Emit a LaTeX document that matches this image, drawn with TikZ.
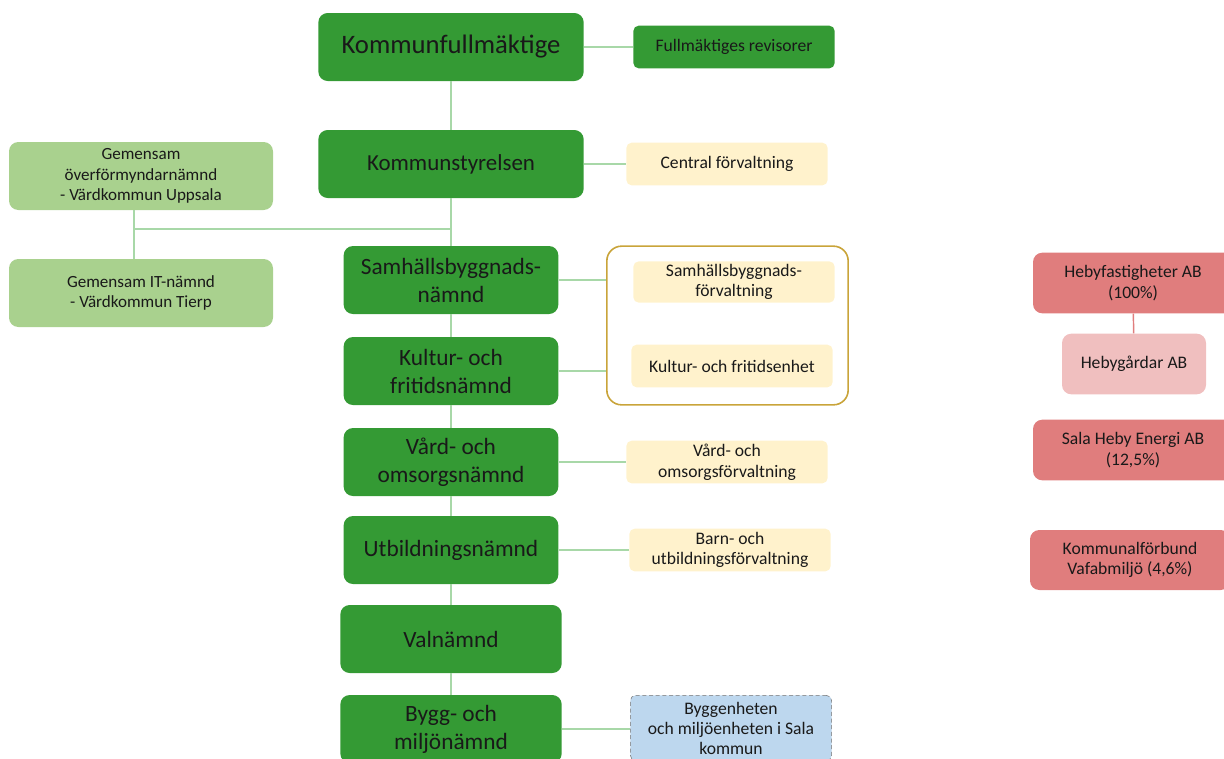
\documentclass[tikz,border=0pt]{standalone}
\usepackage{fontspec}
\setmainfont{Carlito}
\usetikzlibrary{positioning}

\definecolor{boardgreen}{HTML}{349A34}
\definecolor{jointgreen}{HTML}{A9D18E}
\definecolor{officeyellow}{HTML}{FFF2CC}
\definecolor{firmred}{HTML}{E07D7D}
\definecolor{firmpink}{HTML}{F0BFBF}
\definecolor{sharedblue}{HTML}{BDD7EE}
\definecolor{linkgreen}{HTML}{A8D8A8}
\definecolor{groupgold}{HTML}{C9A43A}

\begin{document}
\begin{tikzpicture}[x=0.75pt, y=-0.75pt,
	box/.style={rounded corners=7pt, align=center, inner sep=2pt, text=black!90},
	council/.style={box, fill=boardgreen, minimum width=199pt, minimum height=51pt},
	board/.style={box, fill=boardgreen, minimum width=161pt, minimum height=51pt, font=\fontsize{17.5}{21}\selectfont},
	small/.style={box, rounded corners=4pt, minimum width=151pt, minimum height=32pt, font=\fontsize{13.2}{15.5}\selectfont},
	office/.style={small, fill=officeyellow},
	joint/.style={box, fill=jointgreen, minimum width=198pt, minimum height=51pt, font=\fontsize{12.8}{15.4}\selectfont},
	firm/.style={box, fill=firmred, minimum width=150pt, minimum height=45.5pt, font=\fontsize{13.2}{15.5}\selectfont},
	link/.style={draw=linkgreen, line width=1.1pt}]
	\clip (0,0) rectangle (1224,758);

	\node [council, font=\fontsize{20}{24}\selectfont] (kf) at (451,47) {Kommunfullmäktige};
	\node [small, fill=boardgreen] (rev) at (734,47) {Fullmäktiges revisorer};
	\node [council, font=\fontsize{17.2}{20}\selectfont] (ks) at (451,164) {Kommunstyrelsen};
	\node [office] (cf) at (727,164) {Central förvaltning};

	\node [joint] (ofn) at (141,176) {Gemensam\\överförmyndarnämnd\\- Värdkommun Uppsala};
	\node [joint] (itn) at (141,293) {Gemensam IT-nämnd\\- Värdkommun Tierp};
	\coordinate (fork) at (134,229);

	\node [board] (sbn) at (451,280) {Samhällsbyggnads-\\nämnd};
	\node [board] (kfn) at (451,371) {Kultur- och\\fritidsnämnd};
	\node [board] (von) at (451,462) {Vård- och\\omsorgsnämnd};
	\node [board] (ubn) at (451,550) {Utbildningsnämnd};
	\node [board, minimum width=166pt] (valn) at (451,639) {Valnämnd};
	\node [board, minimum width=166pt] (bmn) at (451,729) {Bygg- och\\miljönämnd};

	\node [draw=groupgold, line width=1.2pt, rounded corners=11pt, minimum width=181pt, minimum height=119pt] (grp) at (727.5,325.5) {};
	\node [office, minimum height=30pt] (sbf) at (734,282) {Samhällsbyggnads-\\förvaltning};
	\node [office] (kfe) at (732,366) {Kultur- och fritidsenhet};
	\node [office] (vof) at (727,462) {Vård- och\\omsorgsförvaltning};
	\node [office] (buf) at (730,550) {Barn- och\\utbildningsförvaltning};
	\node [small, fill=sharedblue, draw=black!55, densely dashed, minimum height=49pt, font=\fontsize{13.2}{15}\selectfont] (bym) at (731,728) {Byggenheten\\och miljöenheten i Sala\\kommun};

	\node [firm] (hfa) at (1133,283) {Hebyfastigheter AB\\(100\%)};
	\node [firm, fill=firmpink, minimum width=108pt] (hga) at (1134,364) {Hebygårdar AB};
	\node [firm] (she) at (1133,450) {Sala Heby Energi AB\\(12,5\%)};
	\node [firm, minimum height=45pt] (vaf) at (1130,560) {Kommunalförbund\\Vafabmiljö (4,6\%)};

	\draw [link] (kf) -- (rev);
	\draw [link] (kf) -- (ks);
	\draw [link] (ks) -- (cf);
	\draw [link] (ks) -- (sbn);
	\draw [link] (fork) -- (fork -| ks.south);
	\draw [link] (ofn.south -| fork) -- (itn.north -| fork);
	\draw [link] (sbn) -- (kfn);
	\draw [link] (kfn) -- (von);
	\draw [link] (von) -- (ubn);
	\draw [link] (ubn) -- (valn);
	\draw [link] (valn) -- (bmn);
	\draw [link] (sbn.east) -- (sbn.east -| grp.west);
	\draw [link] (kfn.east) -- (kfn.east -| grp.west);
	\draw [link] (von) -- (vof);
	\draw [link] (ubn) -- (buf);
	\draw [link] (bmn.east) -- (bmn.east -| bym.west);
	\draw [draw=firmred, line width=1.1pt] (hfa) -- (hga);
\end{tikzpicture}
\end{document}
